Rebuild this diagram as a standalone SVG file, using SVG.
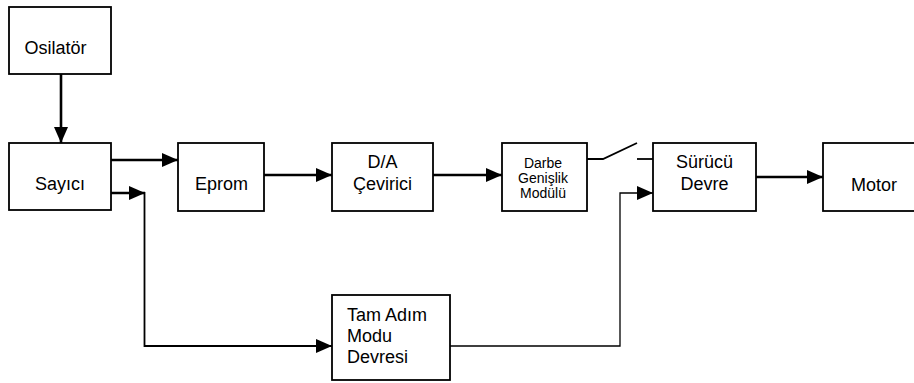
<svg xmlns="http://www.w3.org/2000/svg" width="914" height="383" viewBox="0 0 914 383">
<defs>
<marker id="ah" markerUnits="userSpaceOnUse" viewBox="0 0 16 14" refX="16" refY="7" markerWidth="16" markerHeight="14" orient="auto">
<path d="M0,0 L16,7 L0,14 z" fill="#000"/>
</marker>
<style>
.box{fill:#fff;stroke:#000;stroke-width:1.8}
.t{font-family:"Liberation Sans",Arial,sans-serif;font-size:18px;fill:#000;text-anchor:middle}
.ts{font-family:"Liberation Sans",Arial,sans-serif;font-size:14px;fill:#000;text-anchor:middle}
.tl{font-family:"Liberation Sans",Arial,sans-serif;font-size:18px;fill:#000}
.thick{fill:none;stroke:#000;stroke-width:2.6}
.mid{fill:none;stroke:#000;stroke-width:1.8}
.thin{fill:none;stroke:#000;stroke-width:1.3}
</style>
</defs>
<rect width="914" height="383" fill="#fff"/>
<g id="connectors">
<path class="thick" d="M61,74 V143" marker-end="url(#ah)"/>
<path class="thick" d="M111,160 H178" marker-end="url(#ah)"/>
<path class="thick" d="M111,193 H145" marker-end="url(#ah)"/>
<path class="mid" d="M144.5,192 V346 H332" marker-end="url(#ah)"/>
<path class="thick" d="M264,175 H332" marker-end="url(#ah)"/>
<path class="thick" d="M433,175 H502" marker-end="url(#ah)"/>
<path class="mid" d="M587,159 H603 L637,143"/>
<path class="mid" d="M637,159 H653"/>
<path class="thin" d="M450,346 H620 V193 H653" marker-end="url(#ah)"/>
<path class="thick" d="M756,177 H823" marker-end="url(#ah)"/>
</g>
<g id="osilator">
<rect class="box" x="9" y="7" width="102" height="67"/>
<text class="t" x="55.5" y="54">Osilatör</text>
</g>
<g id="sayici">
<rect class="box" x="9" y="143" width="102" height="67"/>
<text class="t" x="60" y="190">Sayıcı</text>
</g>
<g id="eprom">
<rect class="box" x="178" y="143" width="86" height="68"/>
<text class="t" x="221.5" y="190">Eprom</text>
</g>
<g id="da">
<rect class="box" x="332" y="143" width="101" height="68"/>
<text class="t" x="382.5" y="168">D/A</text>
<text class="t" x="382.5" y="190">Çevirici</text>
</g>
<g id="darbe">
<rect class="box" x="502" y="143" width="85" height="68"/>
<text class="ts" x="543" y="168">Darbe</text>
<text class="ts" x="543" y="182.5">Genişlik</text>
<text class="ts" x="543" y="197.5">Modülü</text>
</g>
<g id="surucu">
<rect class="box" x="653" y="143" width="103" height="68"/>
<text class="t" x="704.5" y="168">Sürücü</text>
<text class="t" x="704.5" y="190">Devre</text>
</g>
<g id="motor">
<rect class="box" x="823" y="143" width="100" height="68"/>
<text class="t" x="874" y="191">Motor</text>
</g>
<g id="tamadim">
<rect class="box" x="332" y="295" width="118" height="85"/>
<text class="tl" x="347" y="321">Tam Adım</text>
<text class="tl" x="347" y="342">Modu</text>
<text class="tl" x="347" y="363">Devresi</text>
</g>
</svg>
